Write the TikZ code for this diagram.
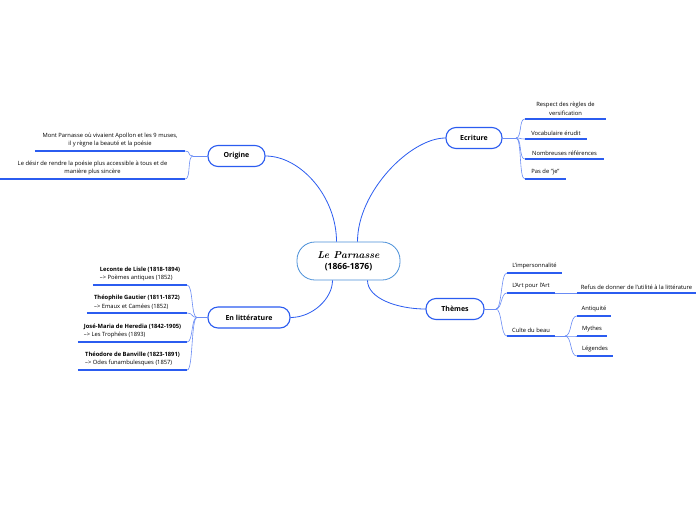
\documentclass[tikz,border=0pt]{standalone}
\usepackage{fontspec}
\setsansfont{Open Sans}
\usepackage{tikz}
\usetikzlibrary{positioning}

\definecolor{mapblue}{HTML}{2B5CF0}
\definecolor{linkblue}{HTML}{6A8CF5}
\definecolor{rootblue}{HTML}{4A90D9}

\tikzset{
  root/.style={draw=rootblue, line width=0.8pt, rounded corners=18pt, minimum width=103pt,
    minimum height=38pt, align=center, font=\sffamily\bfseries\fontsize{8.5}{11.5}\selectfont},
  branch/.style={draw=mapblue, line width=1.1pt, rounded corners=10pt, minimum height=21pt,
    font=\sffamily\bfseries\fontsize{7}{8}\selectfont},
  leaf/.style={anchor=south, inner xsep=0pt, inner ysep=3.5pt, align=center,
    font=\sffamily\fontsize{5.8}{8.6}\selectfont},
  ul/.style={mapblue, line width=1.4pt},
  link/.style={linkblue, line width=0.6pt},
  trunk/.style={mapblue, line width=0.8pt}
}

\begin{document}
\begin{tikzpicture}[x=1pt, y=-1pt]
  \useasboundingbox[fill=white] (0,0) rectangle (696,520);

  % centre and main branches
  \node[root] (parnasse) at (348.5,261) {{\rmfamily\itshape\fontsize{10}{11.5}\selectfont Le Parnasse}\\(1866-1876)};
  \node[branch, minimum width=57pt] (origine) at (236.5,156) {Origine};
  \node[branch, minimum width=56pt] (ecriture) at (474,138) {Ecriture};
  \node[branch, minimum width=58pt] (themes) at (455,309) {Thèmes};
  \node[branch, minimum width=82pt] (litt) at (249,317.5) {En littérature};

  \draw[trunk] (origine.east) .. controls +(35,0) and +(0,-45) .. ([xshift=-12pt]parnasse.north);
  \draw[trunk] (ecriture.west) .. controls +(-35,0) and +(0,-50) .. ([xshift=9pt]parnasse.north);
  \draw[trunk] (litt.east) .. controls +(22,0) and +(0,18) .. ([xshift=-16pt]parnasse.south);
  \draw[trunk] (themes.west) .. controls +(-28,0) and +(0,18) .. ([xshift=19pt]parnasse.south);

  % Origine
  \node[leaf, minimum width=150pt] (o1) at (110,151) {Mont Parnasse où vivaient Apollon et les 9 muses,\\il y règne la beauté et la poésie};
  \node[leaf, minimum width=185pt] (o2) at (92.5,179) {Le désir de rendre la poésie plus accessible à tous et de\\manière plus sincère};
  \coordinate (ojoin) at (193,156);

  % Ecriture
  \node[leaf, minimum width=81pt] (e1) at (565.5,119) {Respect des règles de\\versification};
  \node[leaf, minimum width=62pt] (e2) at (556,139) {Vocabulaire érudit};
  \node[leaf, minimum width=79pt] (e3) at (564.5,159) {Nombreuses références};
  \node[leaf, minimum width=41pt] (e4) at (545.5,179) {Pas de "je"};
  \coordinate (ejoin) at (516,138);

  % Themes
  \node[leaf, minimum width=55pt] (t1) at (534.5,273) {L'impersonnalité};
  \node[leaf, minimum width=48pt] (t2) at (531,293) {L'Art pour l'Art};
  \node[leaf, minimum width=48pt] (t3) at (531,336) {Culte du beau};
  \node[leaf, minimum width=119pt] (r1) at (636.5,293) {Refus de donner de l'utilité à la littérature};
  \node[leaf, minimum width=34pt] (c1) at (594,316) {Antiquité};
  \node[leaf, minimum width=30pt] (c2) at (592,336) {Mythes};
  \node[leaf, minimum width=36pt] (c3) at (595,356) {Légendes};
  \coordinate (tjoin) at (496,309);
  \coordinate (cjoin) at (565,336);

  % En litterature
  \node[leaf, align=left, minimum width=94pt] (l1) at (140,285) {\textbf{Leconte de Lisle (1818-1894)}\\--> Poèmes antiques (1852)};
  \node[leaf, align=left, minimum width=100pt] (l2) at (137,313) {\textbf{Théophile Gautier (1811-1872)}\\--> Emaux et Camées (1852)};
  \node[leaf, align=left, minimum width=109pt] (l3) at (132.5,342) {\textbf{José-Maria de Heredia (1842-1905)}\\--> Les Trophées (1893)};
  \node[leaf, align=left, minimum width=109pt] (l4) at (132.5,370) {\textbf{Théodore de Banville (1823-1891)}\\--> Odes funambulesques (1857)};
  \coordinate (ljoin) at (197,317.5);

  % connectors
  \draw[link] (origine.west) -- (ojoin);
  \foreach \n in {o1,o2}
    \draw[link] (ojoin) .. controls +(-6,0) and +(6,0) .. (\n.south east);
  \draw[link] (ecriture.east) -- (ejoin);
  \foreach \n in {e1,e2,e3,e4}
    \draw[link] (ejoin) .. controls +(6,0) and +(-6,0) .. (\n.south west);
  \draw[link] (themes.east) -- (tjoin);
  \foreach \n in {t1,t2,t3}
    \draw[link] (tjoin) .. controls +(6,0) and +(-6,0) .. (\n.south west);
  \draw[link] (t2.south east) -- (r1.south west);
  \draw[link] (t3.south east) -- (cjoin);
  \foreach \n in {c1,c2,c3}
    \draw[link] (cjoin) .. controls +(7,0) and +(-7,0) .. (\n.south west);
  \draw[link] (litt.west) -- (ljoin);
  \foreach \n in {l1,l2,l3,l4}
    \draw[link] (ljoin) .. controls +(-6,0) and +(6,0) .. (\n.south east);

  % underlines
  \foreach \n in {o1,o2,e1,e2,e3,e4,t1,t2,t3,r1,c1,c2,c3,l1,l2,l3,l4}
    \draw[ul] (\n.south west) -- (\n.south east);
\end{tikzpicture}
\end{document}
